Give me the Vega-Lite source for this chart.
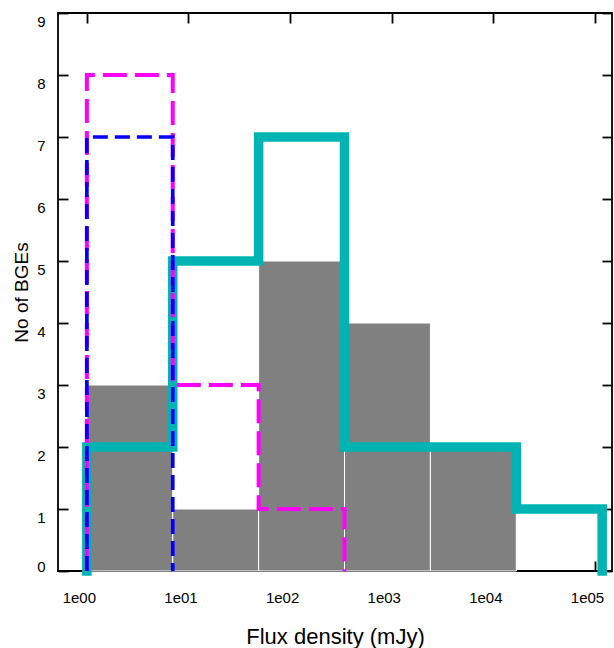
{
  "$schema": "https://vega.github.io/schema/vega-lite/v6.json",
  "width": 554,
  "height": 558,
  "autosize": {"type": "none"},
  "padding": {"left": 58, "top": 13, "right": 2, "bottom": 77},
  "background": "white",
  "config": {
    "view": {"stroke": "black", "strokeWidth": 1.8},
    "font": "Liberation Sans",
    "axis": {
      "domain": false,
      "grid": false,
      "tickColor": "black",
      "tickWidth": 1.8,
      "tickSize": -10,
      "labelFont": "Liberation Sans",
      "labelFontSize": 15,
      "labelColor": "black",
      "titleFont": "Liberation Sans",
      "titleFontWeight": "normal",
      "titleColor": "black"
    }
  },
  "datasets": {
    "bars": [
      {"lo": 1, "hi": 7, "n": 3},
      {"lo": 7, "hi": 49, "n": 1},
      {"lo": 49, "hi": 343, "n": 5},
      {"lo": 343, "hi": 2401, "n": 4},
      {"lo": 2401, "hi": 16807, "n": 2}
    ],
    "steps": [
      {"s": "teal", "i": 0, "x": 1, "y": 0},
      {"s": "teal", "i": 1, "x": 1, "y": 2},
      {"s": "teal", "i": 2, "x": 7, "y": 2},
      {"s": "teal", "i": 3, "x": 7, "y": 5},
      {"s": "teal", "i": 4, "x": 49, "y": 5},
      {"s": "teal", "i": 5, "x": 49, "y": 7},
      {"s": "teal", "i": 6, "x": 343, "y": 7},
      {"s": "teal", "i": 7, "x": 343, "y": 2},
      {"s": "teal", "i": 8, "x": 16807, "y": 2},
      {"s": "teal", "i": 9, "x": 16807, "y": 1},
      {"s": "teal", "i": 10, "x": 117649, "y": 1},
      {"s": "teal", "i": 11, "x": 117649, "y": 0},
      {"s": "magenta", "i": 0, "x": 1, "y": 0},
      {"s": "magenta", "i": 1, "x": 1, "y": 8},
      {"s": "magenta", "i": 2, "x": 7, "y": 8},
      {"s": "magenta", "i": 3, "x": 7, "y": 3},
      {"s": "magenta", "i": 4, "x": 49, "y": 3},
      {"s": "magenta", "i": 5, "x": 49, "y": 1},
      {"s": "magenta", "i": 6, "x": 343, "y": 1},
      {"s": "magenta", "i": 7, "x": 343, "y": 0},
      {"s": "blue", "i": 0, "x": 1, "y": 0},
      {"s": "blue", "i": 1, "x": 1, "y": 7},
      {"s": "blue", "i": 2, "x": 7, "y": 7},
      {"s": "blue", "i": 3, "x": 7, "y": 0}
    ]
  },
  "resolve": {"axis": {"x": "independent", "y": "independent"}},
  "layer": [
    {
      "data": {"name": "bars"},
      "mark": {"type": "rect", "color": "#808080", "stroke": "white", "strokeWidth": 1},
      "encoding": {
        "x": {
          "field": "lo", "type": "quantitative",
          "scale": {"type": "log", "domain": [0.52, 147000], "nice": false},
          "axis": {
            "orient": "bottom",
            "values": [1, 10, 100, 1000, 10000, 100000],
            "labelExpr": "['1e00','1e01','1e02','1e03','1e04','1e05'][round(log(datum.value)/LN10)]",
            "labelOffset": -8,
            "labelPadding": 29,
            "labelBaseline": "top",
            "title": "Flux density (mJy)",
            "titleFontSize": 22,
            "titleY": 72,
            "titleBaseline": "alphabetic"
          }
        },
        "x2": {"field": "hi"},
        "y": {
          "field": "n", "type": "quantitative",
          "scale": {"domain": [0, 9], "nice": false, "zero": true},
          "axis": {
            "orient": "left",
            "values": [0, 1, 2, 3, 4, 5, 6, 7, 8, 9],
            "labelOffset": {"condition": {"test": "datum.value == 0", "value": -5}, "value": 8},
            "labelPadding": 23,
            "title": "No of BGEs",
            "titleFontSize": 19,
            "titleX": -31,
            "titleBaseline": "alphabetic"
          }
        },
        "y2": {"datum": 0}
      }
    },
    {
      "data": {"name": "steps"},
      "transform": [{"filter": "datum.s === 'teal'"}],
      "mark": {"type": "line", "color": "#00b4b4", "strokeWidth": 9.5, "strokeCap": "square", "strokeJoin": "miter"},
      "encoding": {
        "x": {
          "field": "x", "type": "quantitative",
          "scale": {"type": "log", "domain": [0.52, 147000], "nice": false},
          "axis": {"orient": "top", "values": [1, 10, 100, 1000, 10000, 100000], "labels": false, "title": null}
        },
        "y": {
          "field": "y", "type": "quantitative",
          "scale": {"domain": [0, 9], "nice": false, "zero": true},
          "axis": {"orient": "right", "values": [0, 1, 2, 3, 4, 5, 6, 7, 8, 9], "labels": false, "title": null}
        },
        "order": {"field": "i", "type": "quantitative"}
      }
    },
    {
      "data": {"name": "steps"},
      "transform": [{"filter": "datum.s === 'magenta'"}],
      "mark": {"type": "line", "color": "#ff00ff", "strokeWidth": 4, "strokeDash": [24, 8], "strokeJoin": "miter"},
      "encoding": {
        "x": {"field": "x", "type": "quantitative", "scale": {"type": "log", "domain": [0.52, 147000], "nice": false}, "axis": null},
        "y": {"field": "y", "type": "quantitative", "scale": {"domain": [0, 9], "nice": false, "zero": true}, "axis": null},
        "order": {"field": "i", "type": "quantitative"}
      }
    },
    {
      "data": {"name": "steps"},
      "transform": [{"filter": "datum.s === 'blue'"}],
      "mark": {"type": "line", "color": "#0000ff", "strokeWidth": 3.7, "strokeDash": [15, 7], "strokeJoin": "miter"},
      "encoding": {
        "x": {"field": "x", "type": "quantitative", "scale": {"type": "log", "domain": [0.52, 147000], "nice": false}, "axis": null},
        "y": {"field": "y", "type": "quantitative", "scale": {"domain": [0, 9], "nice": false, "zero": true}, "axis": null},
        "order": {"field": "i", "type": "quantitative"}
      }
    }
  ]
}
